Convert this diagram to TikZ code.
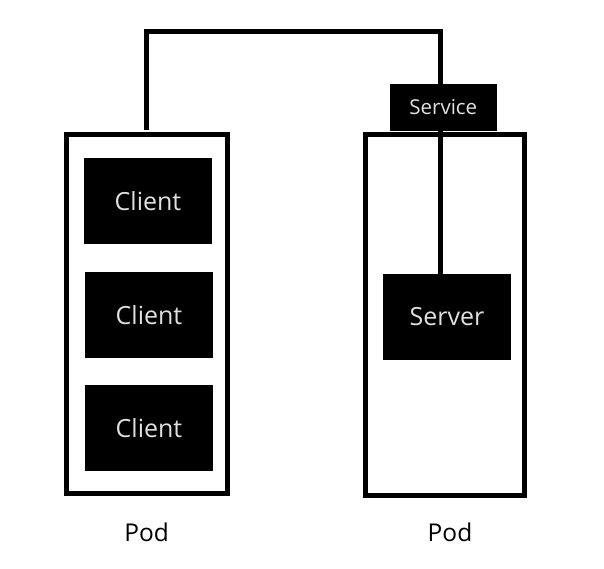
\documentclass[tikz,border=0pt]{standalone}
\usepackage{fontspec}
\setmainfont{Open Sans}
\begin{document}
\begin{tikzpicture}[x=1pt,y=-1pt,
  pod/.style={draw=black,line width=5pt,fill=none},
  blk/.style={fill=black,text=white!88!black,inner sep=0pt},
  conn/.style={draw=black,line width=5pt},
  lbl/.style={font=\fontsize{24.5}{28}\selectfont,inner sep=0pt}]
\useasboundingbox[fill=white] (0,0) rectangle (604,569);
% pods
\node[pod,minimum width=161.5pt,minimum height=358.5pt,inner sep=0pt] (podL) at (147,314) {};
\node[pod,minimum width=159pt,minimum height=360pt,inner sep=0pt] (podR) at (444.5,315) {};
% service
\node[blk,minimum width=106.5pt,minimum height=47pt,font=\fontsize{20.5}{24}\selectfont] (svc) at (443.3,107.5) {Service};
% clients
\node[blk,minimum width=128pt,minimum height=85.5pt,font=\fontsize{25}{28}\selectfont] (c1) at (148,201) {Client};
\node[blk,minimum width=128pt,minimum height=85.5pt,font=\fontsize{25}{28}\selectfont] (c2) at (149,315) {Client};
\node[blk,minimum width=128pt,minimum height=85.5pt,font=\fontsize{25}{28}\selectfont] (c3) at (149,428) {Client};
% server
\node[blk,minimum width=128pt,minimum height=85.5pt,font=\fontsize{25}{28}\selectfont] (srv) at (447,317) {Server};
% connectors
\coordinate (top1) at (146.5,31.5);
\coordinate (top2) at (440,31.5);
\draw[conn] (146.5,130) -- (top1) -- (top2) -- (440,84.5);
\draw[conn] (440,130.5) -- (440,274);
% labels
\node[lbl] (lpod) at (146.7,532) {Pod};
\node[lbl] (rpod) at (450,532) {Pod};
\end{tikzpicture}
\end{document}
